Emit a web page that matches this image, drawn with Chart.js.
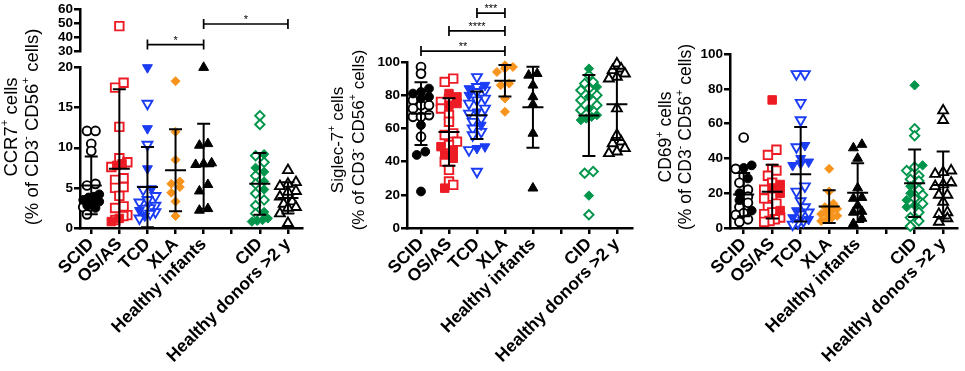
<!DOCTYPE html>
<html><head><meta charset="utf-8">
<script src="https://cdn.jsdelivr.net/npm/chart.js@4.4.1/dist/chart.umd.min.js"></script>
<style>
html,body{margin:0;padding:0;background:#fff;width:965px;height:371px;overflow:hidden}
canvas{position:absolute;top:0}
</style></head><body>
<canvas id="c1" width="325" height="371" style="left:0"></canvas>
<canvas id="c2" width="320" height="371" style="left:325px"></canvas>
<canvas id="c3" width="320" height="371" style="left:645px"></canvas>
<script>
const categories = ['SCID','OS/AS','TCD','XLA','Healthy infants','','CID','Healthy donors >2 y'];

// ---- Panel 1: CCR7+ ----
const ccr7Title = ['CCR7^{+} cells', '(% of CD3^{-} CD56^{+} cells)'];
const ccr7LowerTicks = [0, 5, 10, 15, 20];
const ccr7UpperTicks = [30, 40, 50, 60];
const ccr7Filled = [
  [4.2, 3.9, 3.8, 3.5, 3.3, 3.0, 2.8, 2.5],
  [8.0, 7.8, 1.2, 0.8],
  [20, 12.4, 7.4, 4.9, 2.2, 1.5],
  [18.3, 12.0, 8.5, 5.8, 5.5, 5.1, 4.4, 3.3, 1.5],
  [20, 10.5, 10.3, 8.1, 8.0, 7.9, 5.4, 4.6, 2.4, 2.2],
  [],
  [9.2, 7.5, 7.0, 5.8, 4.8, 2.0, 1.2, 1.0, 0.9, 0.8],
  []
];
const ccr7Open = [
  [12.1, 12.1, 10.5, 9.6, 5.5, 5.3, 3.0, 2.6, 1.7],
  [48, 18.1, 17.5, 12.6, 8.7, 8.2, 7.6, 6.2, 6.0, 5.1, 5.0, 4.0, 2.7, 2.5, 1.6, 1.5, 1.0],
  [15.5, 10.4, 4.8, 4.0, 3.5, 3.2, 2.8, 2.5, 2.4, 2.0, 1.8, 1.2],
  [],
  [],
  [],
  [14.0, 12.9, 9.0, 8.2, 6.5, 5.5, 4.3, 3.5, 2.8, 1.8],
  [7.2, 5.7, 5.5, 5.2, 4.6, 4.5, 3.9, 3.3, 3.0, 2.6, 2.5, 1.8, 0.6]
];
const ccr7Mean = [5.3, 7.4, 5.1, 7.2, 7.7, null, 5.5, 3.75];
const ccr7SD   = [3.6, 9.9, 5.0, 5.1, 5.3, null, 3.85, 1.95];
const ccr7Brackets = [[2, 4, 35, '*'], [4, 7, 49.5, '*']];

// ---- Panel 2: Siglec-7+ ----
const sigTitle = ['Siglec-7^{+} cells', '(% of CD3^{-} CD56^{+} cells)'];
const sigTicks = [0, 20, 40, 60, 80, 100];
const sigFilled = [
  [84, 82, 81, 79, 78, 62, 46, 44, 22],
  [81, 79, 75, 74, 49, 47, 44, 42, 24],
  [86, 84, 80, 70, 62, 49, 48],
  [98, 97, 96, 94, 87, 86, 78, 70],
  [93, 92, 86, 79, 74.5, 57, 24],
  [],
  [96, 85, 79, 72, 68, 67, 66, 65, 19.5],
  []
];
const sigOpen = [
  [97, 93, 77, 74, 74, 72, 68, 67, 67, 55],
  [90, 88, 78, 76, 72, 68, 64, 57, 56, 52, 50, 40, 35, 28, 26],
  [91, 85, 83, 82, 78, 77, 75, 72, 69, 66, 64, 60, 58, 56, 47, 34],
  [],
  [],
  [],
  [92, 88, 87, 84, 83, 80, 77, 74, 71, 34, 33, 8],
  [99, 96, 95, 93, 91, 90, 72, 56, 52, 51, 48, 46, 45]
];
const sigMean = [68.9, 57.8, 67.9, 88.7, 72.8, null, 67.8, 74.5];
const sigSD   = [18.9, 20.3, 14.3, 9.5, 24.4, null, 24.4, 21.5];
const sigBrackets = [[0, 3, 106.6, '**'], [1, 3, 118.7, '****'], [2, 3, 129.5, '***']];

// ---- Panel 3: CD69+ ----
const cd69Title = ['CD69^{+} cells', '(% of CD3^{-} CD56^{+} cells)'];
const cd69Ticks = [0, 20, 40, 60, 80, 100];
const cd69Filled = [
  [36, 34.5, 28.5, 20, 16, 10],
  [73.6, 25, 23, 20, 10],
  [47.5, 40, 38, 37, 36, 10, 6, 5],
  [34, 21, 14, 12, 11, 10, 9, 8, 7, 6, 5, 4],
  [48, 46, 40, 23, 17.5, 17, 13, 9.5, 9, 5.5, 2.5],
  [],
  [82, 36, 24, 20, 16, 13, 12],
  []
];
const cd69Open = [
  [52, 34, 30, 26, 22, 18, 14.5, 12, 8.5, 7.5, 5, 3.5],
  [45, 42, 34, 33, 30, 26, 22, 18, 17, 14, 12, 9, 8, 6, 5, 4, 3.5],
  [88.5, 88.5, 72, 62, 46.5, 24, 21, 15.5, 12, 9, 8, 4, 3, 2],
  [],
  [],
  [],
  [57, 53, 35, 33, 30, 28, 27, 22, 19, 17, 14, 9, 6, 4, 1],
  [67.5, 62, 33, 32, 31, 26, 25, 24, 19, 19, 15, 9, 8, 5.5, 3.5]
];
const cd69Mean = [19.2, 20.9, 30.9, 12.3, 20.3, null, 25.7, 24.7];
const cd69SD   = [12.4, 15.5, 27.2, 9.4, 16.9, null, 19.4, 19.3];

// ---- styling ----
const FONT = "'Liberation Sans', Arial, Helvetica, sans-serif";
const groupStyle = [
  {shape: 'circle',   color: '#000000', r: 4.4, rot: 0},
  {shape: 'rect',     color: '#ed1c24', r: 6.0, rot: 0},
  {shape: 'triangle', color: '#1b3cf5', r: 5.7, rot: 180},
  {shape: 'rectRot',  color: '#f7941d', r: 4.5, rot: 0},
  {shape: 'triangle', color: '#000000', r: 5.7, rot: 0},
  null,
  {shape: 'rectRot',  color: '#00954a', r: 4.7, rot: 0},
  {shape: 'triangle', color: '#000000', r: 5.7, rot: 0}
];

function buildDatasets(filled, open, splitAt) {
  const out = [];
  categories.forEach((cat, i) => {
    const st = groupStyle[i];
    if (!st) return;
    [[filled[i], true], [open[i], false]].forEach(([vals, isFilled]) => {
      if (!vals || !vals.length) return;
      const parts = splitAt == null ? [[vals, 'y']]
        : [[vals.filter(v => v <= splitAt), 'y'], [vals.filter(v => v > splitAt), 'y2']];
      parts.forEach(([vv, axis]) => {
        if (!vv.length) return;
        out.push({
          type: 'scatter',
          label: cat + (isFilled ? ' filled' : ' open'),
          group: i,
          yAxisID: axis,
          data: vv.map(v => ({x: i, y: v})),
          pointStyle: st.shape,
          pointRotation: st.rot,
          pointRadius: st.r,
          pointHoverRadius: st.r,
          pointBackgroundColor: isFilled ? st.color : '#ffffff',
          pointBorderColor: st.color,
          pointBorderWidth: isFilled ? 1 : 1.9,
          showLine: false,
          clip: false
        });
      });
    });
  });
  return out;
}

function meanSDPlugin(means, sds, axisId) {
  return {
    id: 'meanSD',
    afterDatasetsDraw(chart) {
      const xs = chart.scales.x, ys = chart.scales[axisId], ctx = chart.ctx;
      ctx.save();
      ctx.strokeStyle = '#000';
      ctx.lineWidth = 2;
      means.forEach((m, i) => {
        if (m == null) return;
        const sd = sds[i];
        const x = xs.getPixelForValue(i);
        const yM = ys.getPixelForValue(m);
        const yH = ys.getPixelForValue(m + sd);
        const lowVal = Math.max(m - sd, ys.min);
        const yL = ys.getPixelForValue(lowVal);
        ctx.beginPath();
        ctx.moveTo(x, yH); ctx.lineTo(x, yL);
        ctx.moveTo(x - 10.5, yM); ctx.lineTo(x + 10.5, yM);
        ctx.moveTo(x - 6.5, yH); ctx.lineTo(x + 6.5, yH);
        if (m - sd > ys.min) { ctx.moveTo(x - 6.5, yL); ctx.lineTo(x + 6.5, yL); }
        ctx.stroke();
      });
      ctx.restore();
    }
  };
}

function bracketPlugin(items, axisId) {
  return {
    id: 'brackets',
    afterDraw(chart) {
      const xs = chart.scales.x, ys = chart.scales[axisId], ctx = chart.ctx;
      ctx.save();
      ctx.strokeStyle = '#000'; ctx.fillStyle = '#000'; ctx.lineWidth = 1.7;
      ctx.font = '11px ' + FONT; ctx.textAlign = 'center'; ctx.textBaseline = 'middle';
      items.forEach(([a, b, level, label]) => {
        const x1 = xs.getPixelForValue(a), x2 = xs.getPixelForValue(b), y = ys.getPixelForValue(level);
        ctx.beginPath();
        ctx.moveTo(x1, y); ctx.lineTo(x2, y);
        ctx.moveTo(x1, y - 5); ctx.lineTo(x1, y + 5);
        ctx.moveTo(x2, y - 5); ctx.lineTo(x2, y + 5);
        ctx.stroke();
        ctx.fillText(label, (x1 + x2) / 2, y - 4);
      });
      ctx.restore();
    }
  };
}

function titlePlugin(lines, xs, cy, size) {
  return {
    id: 'ytitle',
    afterDraw(chart) {
      const ctx = chart.ctx;
      lines.forEach((line, li) => {
        const segs = [];
        const re = /\^\{([^}]*)\}/g;
        let last = 0, m;
        while ((m = re.exec(line))) {
          if (m.index > last) segs.push([line.slice(last, m.index), false]);
          segs.push([m[1], true]);
          last = re.lastIndex;
        }
        if (last < line.length) segs.push([line.slice(last), false]);
        ctx.save();
        ctx.translate(xs[li], cy);
        ctx.rotate(-Math.PI / 2);
        ctx.fillStyle = '#000';
        ctx.textBaseline = 'middle';
        ctx.textAlign = 'left';
        let w = 0;
        const parts = segs.map(([t, sup]) => {
          ctx.font = (sup ? size * 0.62 : size) + 'px ' + FONT;
          const mw = ctx.measureText(t).width;
          w += mw;
          return {t, sup, mw};
        });
        let x = -w / 2;
        parts.forEach(p => {
          ctx.font = (p.sup ? size * 0.62 : size) + 'px ' + FONT;
          ctx.fillText(p.t, x, p.sup ? -size * 0.36 : 0);
          x += p.mw;
        });
        ctx.restore();
      });
    }
  };
}

function applySwarm(chart) {
  const xs = chart.scales.x;
  const unit = xs.getPixelForValue(1) - xs.getPixelForValue(0);
  const groups = {};
  chart.data.datasets.forEach(ds => {
    const ys = chart.scales[ds.yAxisID];
    ds.data.forEach(p => {
      (groups[ds.group] = groups[ds.group] || []).push({p, py: ys.getPixelForValue(p.y), g: ds.group});
    });
  });
  Object.values(groups).forEach(pts => {
    pts.sort((a, b) => b.py - a.py);
    const rows = [];
    pts.forEach(q => {
      const row = rows[rows.length - 1];
      if (row && Math.abs(row[0].py - q.py) < 6.5) row.push(q); else rows.push([q]);
    });
    rows.forEach(row => {
      const n = row.length;
      const sp = n > 1 ? Math.min(8.5, 16 / (n - 1)) : 0;
      row.forEach((q, k) => {
        const off = (k - (n - 1) / 2) * sp;
        q.p.x = q.g + off / unit;
      });
    });
  });
  chart.update('none');
}

function xScale(min, max) {
  return {
    type: 'linear', min, max, offset: false,
    afterBuildTicks(s) { s.ticks = categories.map((_, i) => ({value: i})); },
    afterFit(s) { s.height = 143; },
    ticks: {
      autoSkip: false, maxRotation: 45, minRotation: 45, padding: 0, color: '#000',
      font: {family: FONT, size: 17.5, weight: 'bold'},
      callback: v => categories[v] ?? ''
    },
    grid: {drawOnChartArea: false, drawTicks: true, tickLength: 6, color: '#000', lineWidth: 2.5},
    border: {display: true, color: '#000', width: 2.5}
  };
}

function yScale(min, max, ticks, width, extra) {
  return Object.assign({
    type: 'linear', min, max,
    afterBuildTicks(s) { s.ticks = ticks.map(v => ({value: v})); },
    afterFit(s) { s.width = width; },
    ticks: {color: '#000', padding: 1, autoSkip: false, font: {family: FONT, size: 13.5, weight: 'bold'}},
    grid: {drawOnChartArea: false, drawTicks: true, tickLength: 6, color: '#000', lineWidth: 2.5},
    border: {display: true, color: '#000', width: 2.5}
  }, extra || {});
}

function baseOptions(padding, scales) {
  return {
    responsive: false, animation: false, devicePixelRatio: 1, events: [],
    layout: {padding},
    plugins: {legend: {display: false}, tooltip: {enabled: false}},
    scales
  };
}

// Panel 1
const ch1 = new Chart(document.getElementById('c1'), {
  type: 'scatter',
  data: {datasets: buildDatasets(ccr7Filled, ccr7Open, 20)},
  options: baseOptions({top: 7, right: 23, left: 0, bottom: 0}, {
    x: xScale(-0.4, 7.5),
    y: yScale(0, 20, ccr7LowerTicks, 80, {stack: 'ccr7', stackWeight: 162}),
    yGap: {type: 'linear', min: 0, max: 1, stack: 'ccr7', stackWeight: 16,
           afterFit(s) { s.width = 80; },
           ticks: {display: false}, grid: {display: false}, border: {display: false}},
    y2: yScale(30, 60, ccr7UpperTicks, 80, {stack: 'ccr7', stackWeight: 43})
  }),
  plugins: [meanSDPlugin(ccr7Mean, ccr7SD, 'y'), bracketPlugin(ccr7Brackets, 'y2'),
            titlePlugin(ccr7Title, [12, 33], 127, 18.5)]
});
applySwarm(ch1);

// Panel 2
const ch2 = new Chart(document.getElementById('c2'), {
  type: 'scatter',
  data: {datasets: buildDatasets(sigFilled, sigOpen, null)},
  options: baseOptions({top: 62, right: 13, left: 0, bottom: 0}, {
    x: xScale(-0.5, 7.54),
    y: yScale(0, 100, sigTicks, 82)
  }),
  plugins: [meanSDPlugin(sigMean, sigSD, 'y'), bracketPlugin(sigBrackets, 'y'),
            titlePlugin(sigTitle, [13, 34], 140, 17)]
});
applySwarm(ch2);

// Panel 3
const ch3 = new Chart(document.getElementById('c3'), {
  type: 'scatter',
  data: {datasets: buildDatasets(cd69Filled, cd69Open, null)},
  options: baseOptions({top: 54, right: 3, left: 0, bottom: 0}, {
    x: xScale(-0.48, 7.49),
    y: yScale(0, 100, cd69Ticks, 85)
  }),
  plugins: [meanSDPlugin(cd69Mean, cd69SD, 'y'), titlePlugin(cd69Title, [21, 41], 137, 17.5)]
});
applySwarm(ch3);
</script>
</body></html>
